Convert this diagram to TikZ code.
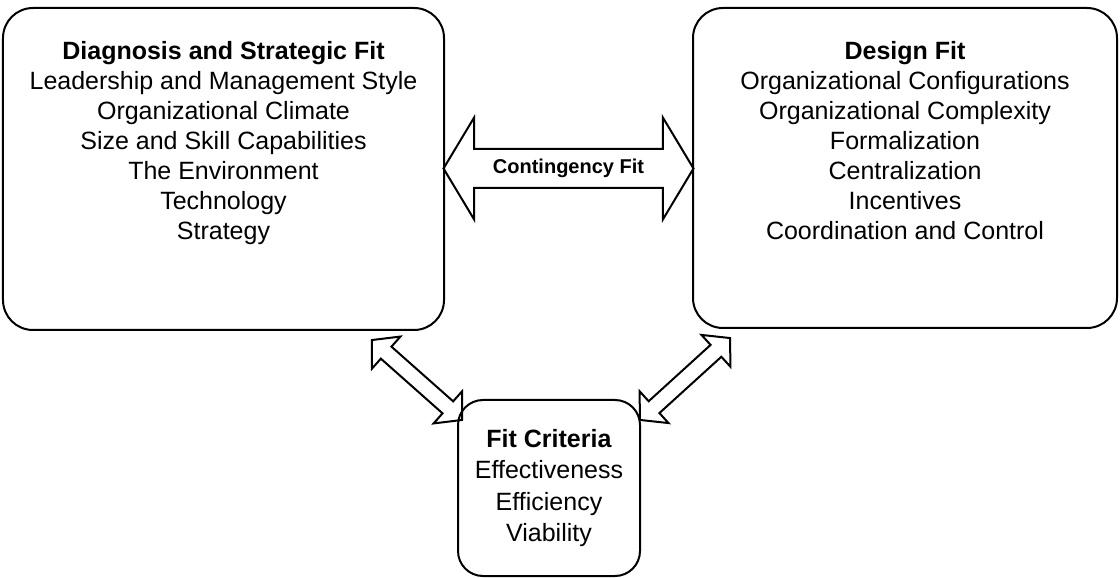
\documentclass[tikz,border=0pt]{standalone}
\usepackage{fontspec}
\setmainfont{Liberation Sans}
\usetikzlibrary{shapes.arrows,calc}

\begin{document}
\begin{tikzpicture}[x=0.4pt, y=-0.4pt, align=center]
  \tikzstyle{panel} = [rectangle, draw, line width=0.8pt, rounded corners=12pt]
  \tikzstyle{items} = [inner sep=0pt, font=\fontsize{10}{12}\selectfont]
  \tikzstyle{fitarrow} = [double arrow, draw, line width=0.8pt, inner xsep=0pt, double arrow head indent=0pt]

  \useasboundingbox (0,0) rectangle (1120,578);

  % the three fit areas
  \node[panel, minimum width=176.4pt, minimum height=128.8pt] (diag) at (223.5,169) {};
  \node[items, anchor=north] (diagtext) at ($(diag.north)+(0,34)$)
    {\textbf{Diagnosis and Strategic Fit}\\ Leadership and Management Style\\ Organizational Climate\\
     Size and Skill Capabilities\\ The Environment\\ Technology\\ Strategy};

  \node[panel, minimum width=169.6pt, minimum height=128pt] (design) at (905,168) {};
  \node[items, anchor=north] (designtext) at ($(design.north)+(0,34)$)
    {\textbf{Design Fit}\\ Organizational Configurations\\ Organizational Complexity\\
     Formalization\\ Centralization\\ Incentives\\ Coordination and Control};

  \node[panel, rounded corners=10pt, minimum width=72.8pt, minimum height=70.4pt,
        font=\fontsize{10}{12.6}\selectfont] (crit) at (549,488)
    {\textbf{Fit Criteria}\\ Effectiveness\\ Efficiency\\ Viability};

  % links between them
  \path (diag.east) -- (design.west)
    node[midway, fitarrow, minimum height=100pt, text height=6pt, text depth=1.8pt, inner ysep=3.5pt,
         double arrow head extend=12.6pt, double arrow tip angle=118,
         font=\fontsize{8}{10}\selectfont\bfseries] (contingency) {Contingency Fit};
  \path ($(diag.south east)+(-72,10)$) -- ($(crit.north west)+(4,20)$)
    node[midway, sloped, fitarrow, minimum height=48.2pt, inner ysep=2.8pt,
         double arrow head extend=5.4pt, double arrow tip angle=97] (leftlink) {};
  \path ($(crit.north east)+(0,20)$) -- ($(design.south west)+(37,10)$)
    node[midway, sloped, fitarrow, minimum height=48.7pt, inner ysep=2.8pt,
         double arrow head extend=5.4pt, double arrow tip angle=97] (rightlink) {};
\end{tikzpicture}
\end{document}
